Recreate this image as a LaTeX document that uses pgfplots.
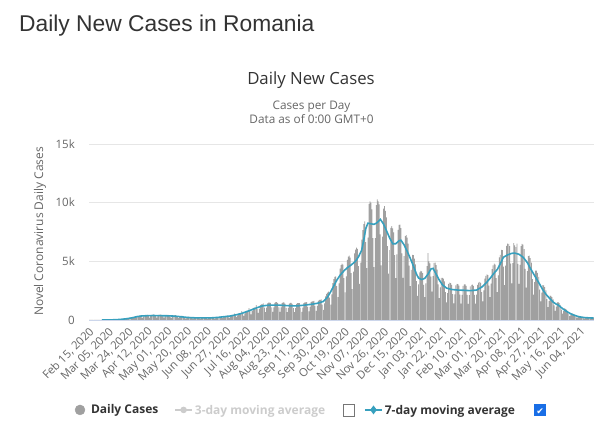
\documentclass[border=0pt]{standalone}
\usepackage{fontspec}
\setmainfont{Open Sans}
\newfontfamily\arialfont{Liberation Sans}
\newfontfamily\dejavu{DejaVu Sans}
\usepackage{pgfplots}
\usepackage{pgfplotstable}
\pgfplotsset{compat=1.18}
\definecolor{barcol}{RGB}{160,160,160}
\definecolor{macol}{RGB}{55,160,190}
\definecolor{txt}{RGB}{51,51,51}
\definecolor{lbl}{RGB}{102,102,102}
\definecolor{gridc}{RGB}{230,230,230}
\definecolor{basec}{RGB}{204,214,235}
\definecolor{hid}{RGB}{204,204,204}
\definecolor{cbblue}{RGB}{25,110,230}
\definecolor{cbgray}{RGB}{118,118,118}
\newcommand\cbempty{{\setlength\fboxsep{0pt}\setlength\fboxrule{0.8pt}\raisebox{-1.5pt}{\fcolorbox{cbgray}{white}{\rule{0pt}{10.5pt}\hspace{10.5pt}}}}}
\newcommand\cbchecked{{\setlength\fboxsep{0pt}\raisebox{-1.5pt}{\colorbox{cbblue}{\makebox[12pt][c]{\rule{0pt}{12pt}\raisebox{1.5pt}{\color{white}\dejavu\fontsize{9}{10}\selectfont ✔}}}}}}

\pgfplotstableread[row sep=\\]{
cases\\
0\\0\\0\\0\\0\\0\\0\\
0\\0\\0\\0\\1\\0\\1\\
2\\1\\0\\3\\3\\5\\6\\
20\\15\\10\\17\\25\\28\\30\\
55\\45\\30\\50\\70\\75\\80\\
120\\110\\80\\130\\170\\190\\210\\
260\\220\\150\\230\\310\\330\\340\\
400\\300\\190\\300\\400\\420\\420\\
430\\320\\205\\320\\430\\450\\450\\
430\\320\\205\\320\\430\\450\\450\\
415\\310\\200\\310\\415\\435\\435\\
390\\290\\185\\290\\390\\410\\410\\
340\\250\\160\\250\\340\\355\\355\\
260\\190\\125\\190\\260\\270\\270\\
215\\160\\105\\160\\215\\225\\225\\
200\\150\\95\\150\\200\\210\\210\\
205\\155\\100\\155\\205\\215\\215\\
240\\180\\115\\180\\240\\250\\250\\
310\\230\\150\\230\\310\\325\\325\\
390\\290\\185\\290\\390\\410\\410\\
540\\400\\260\\400\\540\\565\\565\\
750\\555\\360\\555\\750\\785\\785\\
1010\\750\\485\\750\\1010\\1055\\1055\\
1275\\945\\610\\945\\1275\\1330\\1330\\
1425\\1055\\680\\1055\\1425\\1490\\1490\\
1460\\1080\\700\\1080\\1460\\1525\\1525\\
1445\\1065\\690\\1065\\1445\\1505\\1505\\
1400\\1035\\670\\1035\\1400\\1465\\1465\\
1380\\1020\\660\\1020\\1380\\1440\\1440\\
1440\\1060\\690\\1060\\1440\\1500\\1500\\
1525\\1125\\730\\1125\\1525\\1590\\1590\\
1640\\1210\\785\\1210\\1640\\1710\\1710\\
1750\\1320\\870\\1420\\2020\\2220\\2340\\
2415\\1910\\1320\\2185\\3140\\3480\\3680\\
3710\\2890\\1940\\3120\\4370\\4680\\4800\\
4715\\3570\\2350\\3710\\5120\\5410\\5480\\
5325\\3995\\2630\\4120\\5670\\6000\\6160\\
6060\\4590\\3070\\4900\\6840\\7660\\8160\\
8400\\6630\\4420\\7010\\9900\\10100\\10000\\
9430\\6970\\4510\\6970\\9800\\10270\\10100\\
9850\\7300\\4650\\7100\\9500\\9700\\9300\\
8740\\6290\\3960\\5950\\7850\\8000\\7800\\
7475\\5525\\3575\\5590\\7670\\8100\\8130\\
7820\\5670\\3590\\5440\\7150\\7240\\7020\\
6500\\4630\\2890\\4280\\5540\\5520\\5240\\
4750\\3315\\2055\\3035\\4060\\4190\\4140\\
4000\\2990\\1950\\3120\\4600\\5700\\5000\\
4830\\3700\\2410\\3740\\4860\\4880\\4680\\
4290\\3035\\1870\\2780\\3600\\3600\\3520\\
3290\\2370\\1500\\2295\\3070\\3180\\3145\\
2990\\2200\\1420\\2190\\2955\\3070\\3060\\
2925\\2160\\1395\\2150\\2910\\3035\\3030\\
2900\\2140\\1380\\2130\\2875\\3000\\3005\\
2900\\2150\\1400\\2170\\2990\\3180\\3240\\
3160\\2380\\1590\\2525\\3520\\3770\\3880\\
3830\\2925\\1950\\3100\\4335\\4660\\4800\\
4715\\3570\\2365\\3800\\5330\\5560\\5980\\
5950\\4550\\2970\\4630\\6325\\6500\\6480\\
6300\\4800\\3120\\4840\\6550\\6350\\6200\\
6500\\4785\\3080\\4700\\6290\\6490\\6420\\
6030\\4360\\2755\\4165\\5440\\5480\\5280\\
4890\\3485\\2170\\3230\\4200\\4200\\4020\\
3680\\2590\\1590\\2330\\2970\\2940\\2800\\
2530\\1785\\1100\\1615\\2080\\2065\\1945\\
1760\\1250\\775\\1150\\1510\\1525\\1440\\
1290\\890\\540\\780\\980\\950\\890\\
780\\535\\320\\450\\565\\545\\505\\
450\\305\\180\\260\\320\\310\\295\\
265\\185\\115\\170\\225\\230\\220\\
205\\150\\95\\145\\195\\
}\daily

\begin{document}
\begin{tikzpicture}
\useasboundingbox (0,0) rectangle (600pt,427pt);
\node[anchor=base west, inner sep=0pt, text=txt, font=\arialfont\fontsize{22.8}{27}\selectfont] at (19pt,395.6pt) {Daily New Cases in Romania};
\node[anchor=base, inner sep=0pt, text=txt, font=\fontsize{16.8}{20}\selectfont] at (311pt,342pt) {Daily New Cases};
\node[anchor=base, inner sep=0pt, text=lbl, font=\fontsize{11.8}{14}\selectfont] at (311.5pt,317pt) {Cases per Day};
\node[anchor=base, inner sep=0pt, text=lbl, font=\fontsize{11.8}{14}\selectfont] at (311.5pt,303pt) {Data as of 0:00 GMT+0};
\node[rotate=90, inner sep=0pt, text=lbl, font=\fontsize{12}{14}\selectfont] at (40pt,195.5pt) {Novel Coronavirus Daily Cases};
\begin{axis}[
  at={(89pt,107pt)}, anchor=south west,
  width=505pt, height=176pt, scale only axis,
  xmin=-0.5, xmax=487.5, ymin=0, ymax=15000,
  axis x line*=bottom, axis y line*=left,
  x axis line style={draw=basec, line width=0.8pt, -},
  y axis line style={draw=none},
  major tick length=0pt,
  ymajorgrids, grid style={gridc, line width=0.8pt},
  scaled y ticks=false,
  /pgf/number format/assume math mode=true,
  ytick={0,5000,10000,15000}, yticklabels={0,5k,10k,15k},
  yticklabel style={font=\fontsize{11.5}{13}\selectfont, text=lbl, inner sep=0pt, anchor=east, xshift=-14pt},
  xtick={0,19,...,475},
  xticklabels={{Feb 15, 2020},{Mar 05, 2020},{Mar 24, 2020},{Apr 12, 2020},{May 01, 2020},{May 20, 2020},{Jun 08, 2020},{Jun 27, 2020},{Jul 16, 2020},{Aug 04, 2020},{Aug 23, 2020},{Sep 11, 2020},{Sep 30, 2020},{Oct 19, 2020},{Nov 07, 2020},{Nov 26, 2020},{Dec 15, 2020},{Jan 03, 2021},{Jan 22, 2021},{Feb 10, 2021},{Mar 01, 2021},{Mar 20, 2021},{Apr 08, 2021},{Apr 27, 2021},{May 16, 2021},{Jun 04, 2021}},
  xticklabel style={font=\fontsize{11.3}{12}\selectfont, text=lbl, inner sep=0pt, yshift=-10pt, xshift=2.5pt, rotate=45, anchor=east},
  legend columns=3,
  legend cell align=left,
  legend style={at={(-0.0277,-0.511)}, anchor=west, draw=none, fill=none, inner sep=0pt, outer sep=0pt,
    font=\bfseries\fontsize{12}{14}\selectfont, text=txt,
    /tikz/every even column/.append style={column sep=2pt}},
]
\addlegendimage{only marks, mark=*, mark size=5pt, mark options={fill=barcol, draw=barcol}}
\addlegendentry{\kern4pt Daily Cases\kern12pt}
\addlegendimage{hid, line width=1.5pt, mark=*, mark size=2.5pt, mark options={fill=hid, draw=hid}}
\addlegendentry{\textcolor{hid}{3-day moving average}\kern18pt\cbempty\kern5pt}
\addlegendimage{macol, line width=1.5pt, mark=diamond*, mark size=3.2pt, mark options={fill=macol, draw=macol}}
\addlegendentry{7-day moving average\kern19pt\cbchecked}
\addplot[ybar, bar width=0.72, fill=barcol, draw=none, forget plot] table[x expr=\coordindex, y=cases] {\daily};
\addplot[macol, line width=1.6pt, forget plot] coordinates {
(12,0)(18,5)(24,20)(30,50)(36,110)(42,200)(46,290)(50,340)(56,370)(62,380)(68,370)(74,360)(80,340)(85,310)(90,260)(95,215)(100,190)(106,175)(112,175)(118,185)(124,220)(130,280)(136,340)(142,450)(147,560)(152,720)(157,880)(162,1050)(167,1200)(172,1250)(177,1270)(182,1270)(188,1240)(194,1210)(200,1200)(206,1250)(211,1300)(216,1360)(221,1440)(226,1580)(230,1950)(233,2400)(236,2900)(239,3400)(242,3800)(246,4200)(249,4450)(253,4700)(257,5000)(260,5400)(263,5950)(265,6800)(267,7800)(269,8250)(272,8200)(275,8150)(278,8300)(281,8580)(284,8200)(287,7600)(290,7000)(293,6500)(296,6500)(299,6750)(301,6800)(304,6400)(307,5850)(310,5250)(313,4600)(316,3900)(318,3570)(321,3450)(324,3550)(327,3900)(330,4350)(332,4400)(335,3900)(338,3400)(341,3000)(345,2720)(350,2600)(356,2550)(362,2530)(368,2500)(374,2550)(379,2800)(384,3230)(388,3650)(391,4000)(394,4300)(397,4800)(400,5350)(404,5550)(408,5680)(411,5700)(415,5600)(419,5350)(423,4900)(426,4400)(429,3950)(432,3500)(435,3050)(438,2580)(441,2200)(444,1900)(448,1530)(451,1350)(453,1270)(456,1050)(459,850)(462,680)(465,530)(468,420)(471,330)(474,260)(478,210)(482,185)(487,165)
};
\end{axis}
\end{tikzpicture}
\end{document}
